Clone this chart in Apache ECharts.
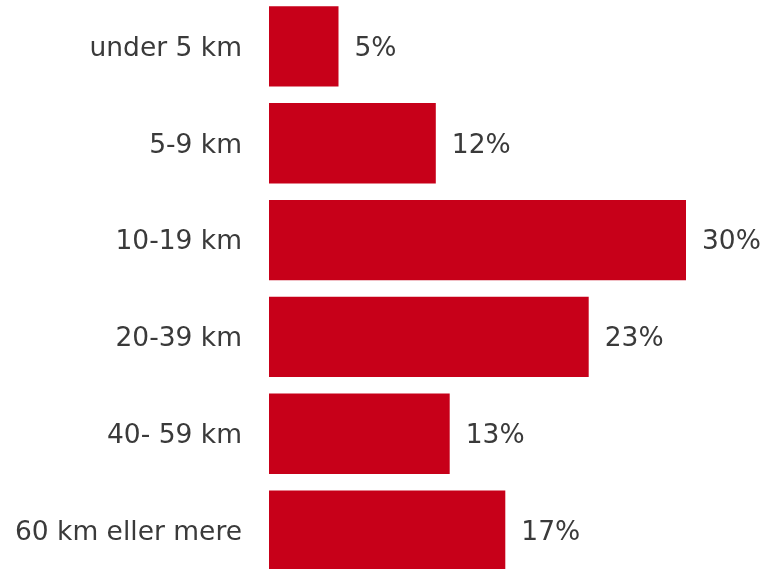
<!DOCTYPE html>
<html><head><meta charset="utf-8">
<script src="https://cdn.jsdelivr.net/npm/echarts@6/dist/echarts.min.js"></script>
<style>html,body{margin:0;padding:0;background:#fff;overflow:hidden}#c{width:768px;height:581px;margin-top:-2px}</style>
</head><body><div id="c"></div>
<script>
const categories = ["under 5 km", "5-9 km", "10-19 km", "20-39 km", "40- 59 km", "60 km eller mere"];
const values = [5, 12, 30, 23, 13, 17];

const chart = echarts.init(document.getElementById('c'), null, {renderer: 'canvas'});
chart.setOption({
  animation: false,
  grid: {left: 269, right: 82, top: 0, bottom: 0, containLabel: false},
  xAxis: {type: 'value', min: 0, max: 30, show: false},
  yAxis: {
    type: 'category', data: categories, inverse: true,
    axisLine: {show: false}, axisTick: {show: false}, splitLine: {show: false},
    axisLabel: {margin: 27, formatter: '{a|{value}}',
      rich: {a: {fontFamily: 'DejaVu Sans', fontSize: 26.5, color: '#3a3a3a', padding: [5, 0, 0, 0]}}}
  },
  series: [{
    type: 'bar', data: values, barCategoryGap: '17%',
    itemStyle: {color: '#C70019'},
    label: {show: true, position: 'right', distance: 16, formatter: '{c}%', offset: [0, 2.5],
      fontFamily: 'DejaVu Sans', fontSize: 26.5, color: '#3a3a3a'}
  }]
});
</script></body></html>
